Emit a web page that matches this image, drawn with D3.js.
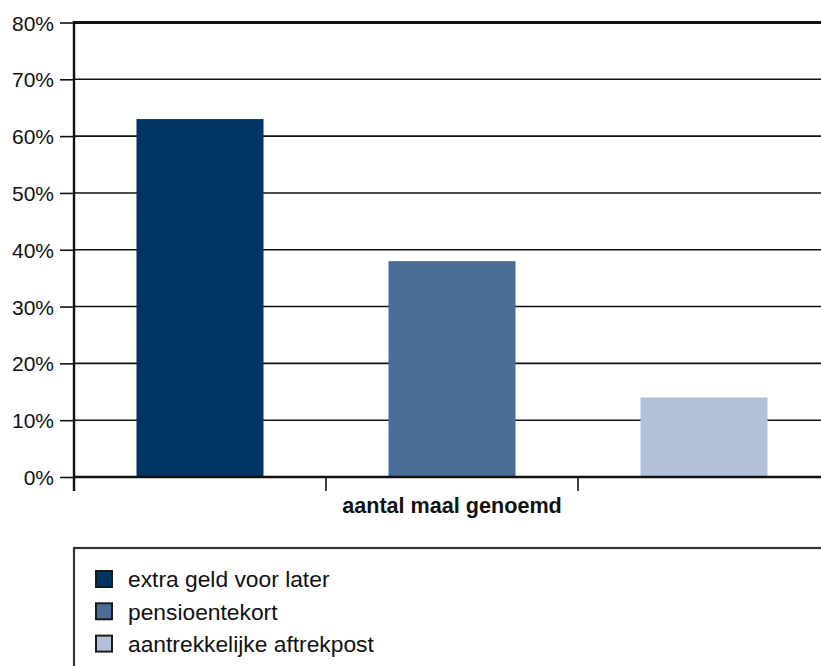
<!DOCTYPE html>
<html>
<head>
<meta charset="utf-8">
<script src="https://cdn.jsdelivr.net/npm/d3@7"></script>
<style>
  html, body { margin: 0; padding: 0; background: #fff; }
  svg { display: block; font-family: "Liberation Sans", Arial, Helvetica, sans-serif; }
</style>
</head>
<body>
<svg id="chart" width="821" height="666"></svg>
<script>
// Reasons given, share of respondents
const categories = ["extra geld voor later", "pensioentekort", "aantrekkelijke aftrekpost"];
const values = [63, 38, 14];
const colors = ["#003463", "#4a6d98", "#b3c0d9"];
const yTicks = [0, 10, 20, 30, 40, 50, 60, 70, 80];
const axisTitle = "aantal maal genoemd";

const svg = d3.select("#chart");
const plotLeft = 74, plotRight = 830, plotTop = 22.5, plotBottom = 477;

const x = d3.scaleBand().domain(categories).range([plotLeft, plotRight]).paddingInner(0).paddingOuter(0);
const y = d3.scaleLinear().domain([0, 80]).range([plotBottom, plotTop]);
const barW = x.bandwidth() * 0.504;

// horizontal gridlines
svg.append("g").selectAll("line").data(yTicks.filter(t => t > 0)).join("line")
  .attr("x1", plotLeft).attr("x2", 821)
  .attr("y1", d => y(d)).attr("y2", d => y(d))
  .attr("stroke", "#111")
  .attr("stroke-width", d => d === 80 ? 3 : 1.6);

// bars
svg.append("g").selectAll("rect").data(values).join("rect")
  .attr("x", (d, i) => x(categories[i]) + (x.bandwidth() - barW) / 2)
  .attr("width", barW)
  .attr("y", d => y(d))
  .attr("height", d => y(0) - y(d))
  .attr("fill", (d, i) => colors[i]);

// y axis
const yAxis = d3.axisLeft(y).tickValues(yTicks).tickFormat(d => d + "%").tickSize(14).tickPadding(6);
const gy = svg.append("g").attr("transform", `translate(${plotLeft},0)`).call(yAxis);
gy.select(".domain").remove();
gy.selectAll(".tick line").attr("stroke", "#111").attr("stroke-width", 1.6);
gy.selectAll(".tick text").attr("font-size", 21).attr("fill", "#111")
  .attr("font-family", "'Liberation Sans', Arial, sans-serif").attr("dy", "0.36em");
svg.append("line").attr("x1", plotLeft).attr("x2", plotLeft).attr("y1", plotTop - 1.5).attr("y2", plotBottom + 14)
  .attr("stroke", "#111").attr("stroke-width", 2.4);

// x axis with band boundary ticks
svg.append("line").attr("x1", plotLeft).attr("x2", 821).attr("y1", plotBottom).attr("y2", plotBottom)
  .attr("stroke", "#111").attr("stroke-width", 2.4);
const bounds = categories.map(c => x(c)).concat([plotRight]);
svg.append("g").selectAll("line").data(bounds).join("line")
  .attr("x1", d => d).attr("x2", d => d)
  .attr("y1", plotBottom).attr("y2", plotBottom + 14)
  .attr("stroke", "#111").attr("stroke-width", 1.6);

svg.append("text")
  .attr("x", (plotLeft + plotRight) / 2).attr("y", 513)
  .attr("text-anchor", "middle")
  .attr("font-size", 21.6).attr("font-weight", "bold").attr("fill", "#111")
  .text(axisTitle);

// legend
svg.append("rect").attr("x", 74).attr("y", 548).attr("width", 800).attr("height", 200)
  .attr("fill", "none").attr("stroke", "#333").attr("stroke-width", 2.2);
const legend = svg.append("g").selectAll("g").data(categories).join("g")
  .attr("transform", (d, i) => `translate(96,${579 + i * 32.3})`);
legend.append("rect").attr("x", 0).attr("y", -8).attr("width", 16).attr("height", 16)
  .attr("fill", (d, i) => colors[i]).attr("stroke", "#1a1a1a").attr("stroke-width", 2);
legend.append("text").attr("x", 32).attr("y", 0).attr("dy", "0.36em")
  .attr("font-size", 22.8).attr("fill", "#111").text(d => d);
</script>
</body>
</html>
